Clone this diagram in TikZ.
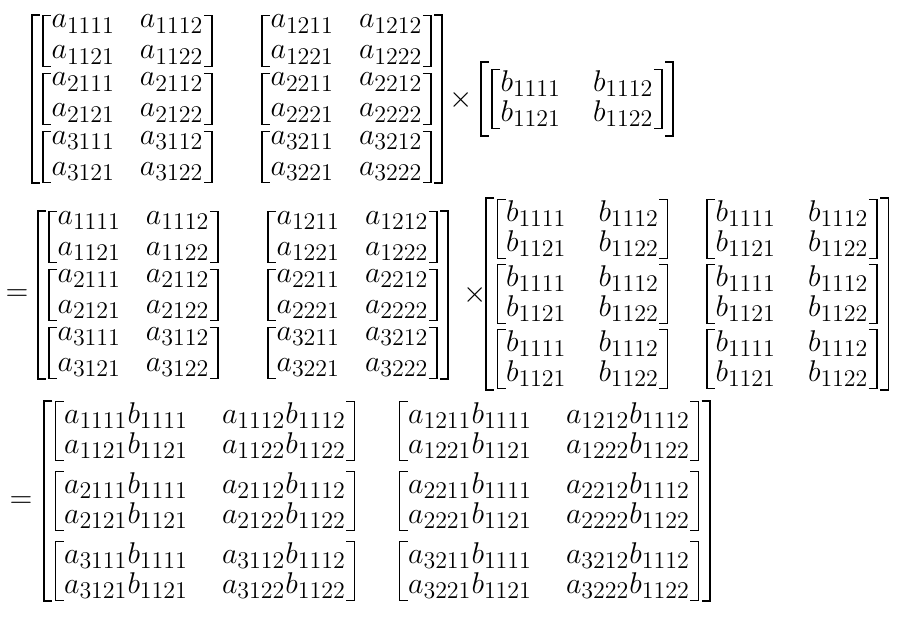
\RequirePackage{fix-cm}
\documentclass[tikz,border=0pt]{standalone}
\usetikzlibrary{matrix,fit}
\DeclareMathSizes{15}{15}{12}{9}

% square brackets round a node: node name, arm length
\newcommand{\drawbrackets}[2]{%
  \draw[brk] (#1.north west) ++(#2,0) -- (#1.north west) -- (#1.south west) -- ++(#2,0);
  \draw[brk] (#1.north east) ++(-#2,0) -- (#1.north east) -- (#1.south east) -- ++(-#2,0);}

\tikzset{
  every node/.style={font=\fontsize{15}{18}\selectfont},
  blk/.style={matrix of math nodes, ampersand replacement=\&,
    inner xsep=4pt, inner ysep=0pt, nodes={inner sep=0pt}},
  blkA/.style={blk, column sep=12.5pt, row sep=6pt,
    nodes={text height=6pt, text depth=3.5pt}},
  blkB/.style={blk, column sep=16pt, row sep=1pt,
    nodes={text height=10.5pt, text depth=3.5pt}},
  blkC/.style={blk, column sep=17pt, row sep=1pt,
    nodes={text height=10.5pt, text depth=3.5pt}},
  outer/.style={inner xsep=5.5pt, inner ysep=0pt},
  brk/.style={line width=0.8pt},
  sym/.style={inner sep=0pt}
}

\begin{document}
\begin{tikzpicture}[x=0.5pt,y=-0.5pt]
\useasboundingbox (0,0) rectangle (904,626);

% first line: A x B
\foreach \ri/\y in {1/41,2/99,3/157}
  \foreach \ci/\x in {1/127.5,2/346.5}
    \matrix[blkA] (A1-\ri\ci) at (\x,\y)
      {a_{\ri\ci11} \& a_{\ri\ci12}\\ a_{\ri\ci21} \& a_{\ri\ci22}\\};
\node[outer, fit=(A1-11)(A1-32)] (A1) {};
\node[sym] (times1) at (461,100) {$\times$};
\matrix[blkB] (B1-11) at (577,99)
  {b_{1111} \& b_{1112}\\ b_{1121} \& b_{1122}\\};
\node[outer, inner ysep=3.5pt, fit=(B1-11)] (B1) {};

% second line: = A x B (B repeated)
\node[sym] (eq2) at (17,295) {$=$};
\foreach \ri/\y in {1/237,2/295,3/353}
  \foreach \ci/\x in {1/133.5,2/352.5}
    \matrix[blkA] (A2-\ri\ci) at (\x,\y)
      {a_{\ri\ci11} \& a_{\ri\ci12}\\ a_{\ri\ci21} \& a_{\ri\ci22}\\};
\node[outer, fit=(A2-11)(A2-32)] (A2) {};
\node[sym] (times2) at (475,295) {$\times$};
\foreach \ri/\y in {1/229,2/294,3/359}
  \foreach \ci/\x in {1/582.5,2/792}
    \matrix[blkB] (B2-\ri\ci) at (\x,\y)
      {b_{1111} \& b_{1112}\\ b_{1121} \& b_{1122}\\};
\node[outer, inner ysep=0.5pt, fit=(B2-11)(B2-32)] (B2) {};

% third line: = products
\node[sym] (eq3) at (21,502) {$=$};
\foreach \ri/\y in {1/431,2/501,3/571}
  \foreach \ci/\x in {1/205,2/549}
    \matrix[blkC] (C-\ri\ci) at (\x,\y)
      {a_{\ri\ci11}b_{1111} \& a_{\ri\ci12}b_{1112}\\
       a_{\ri\ci21}b_{1121} \& a_{\ri\ci22}b_{1122}\\};
\node[outer, fit=(C-11)(C-32)] (C) {};

% brackets
\foreach \n in {A1-11,A1-12,A1-21,A1-22,A1-31,A1-32,
                A2-11,A2-12,A2-21,A2-22,A2-31,A2-32,
                B2-11,B2-12,B2-21,B2-22,B2-31,B2-32,
                C-11,C-12,C-21,C-22,C-31,C-32,B1-11}
  {\drawbrackets{\n}{8}}
\foreach \n in {A1,B1,A2,B2,C}
  {\drawbrackets{\n}{8}}
\end{tikzpicture}
\end{document}
